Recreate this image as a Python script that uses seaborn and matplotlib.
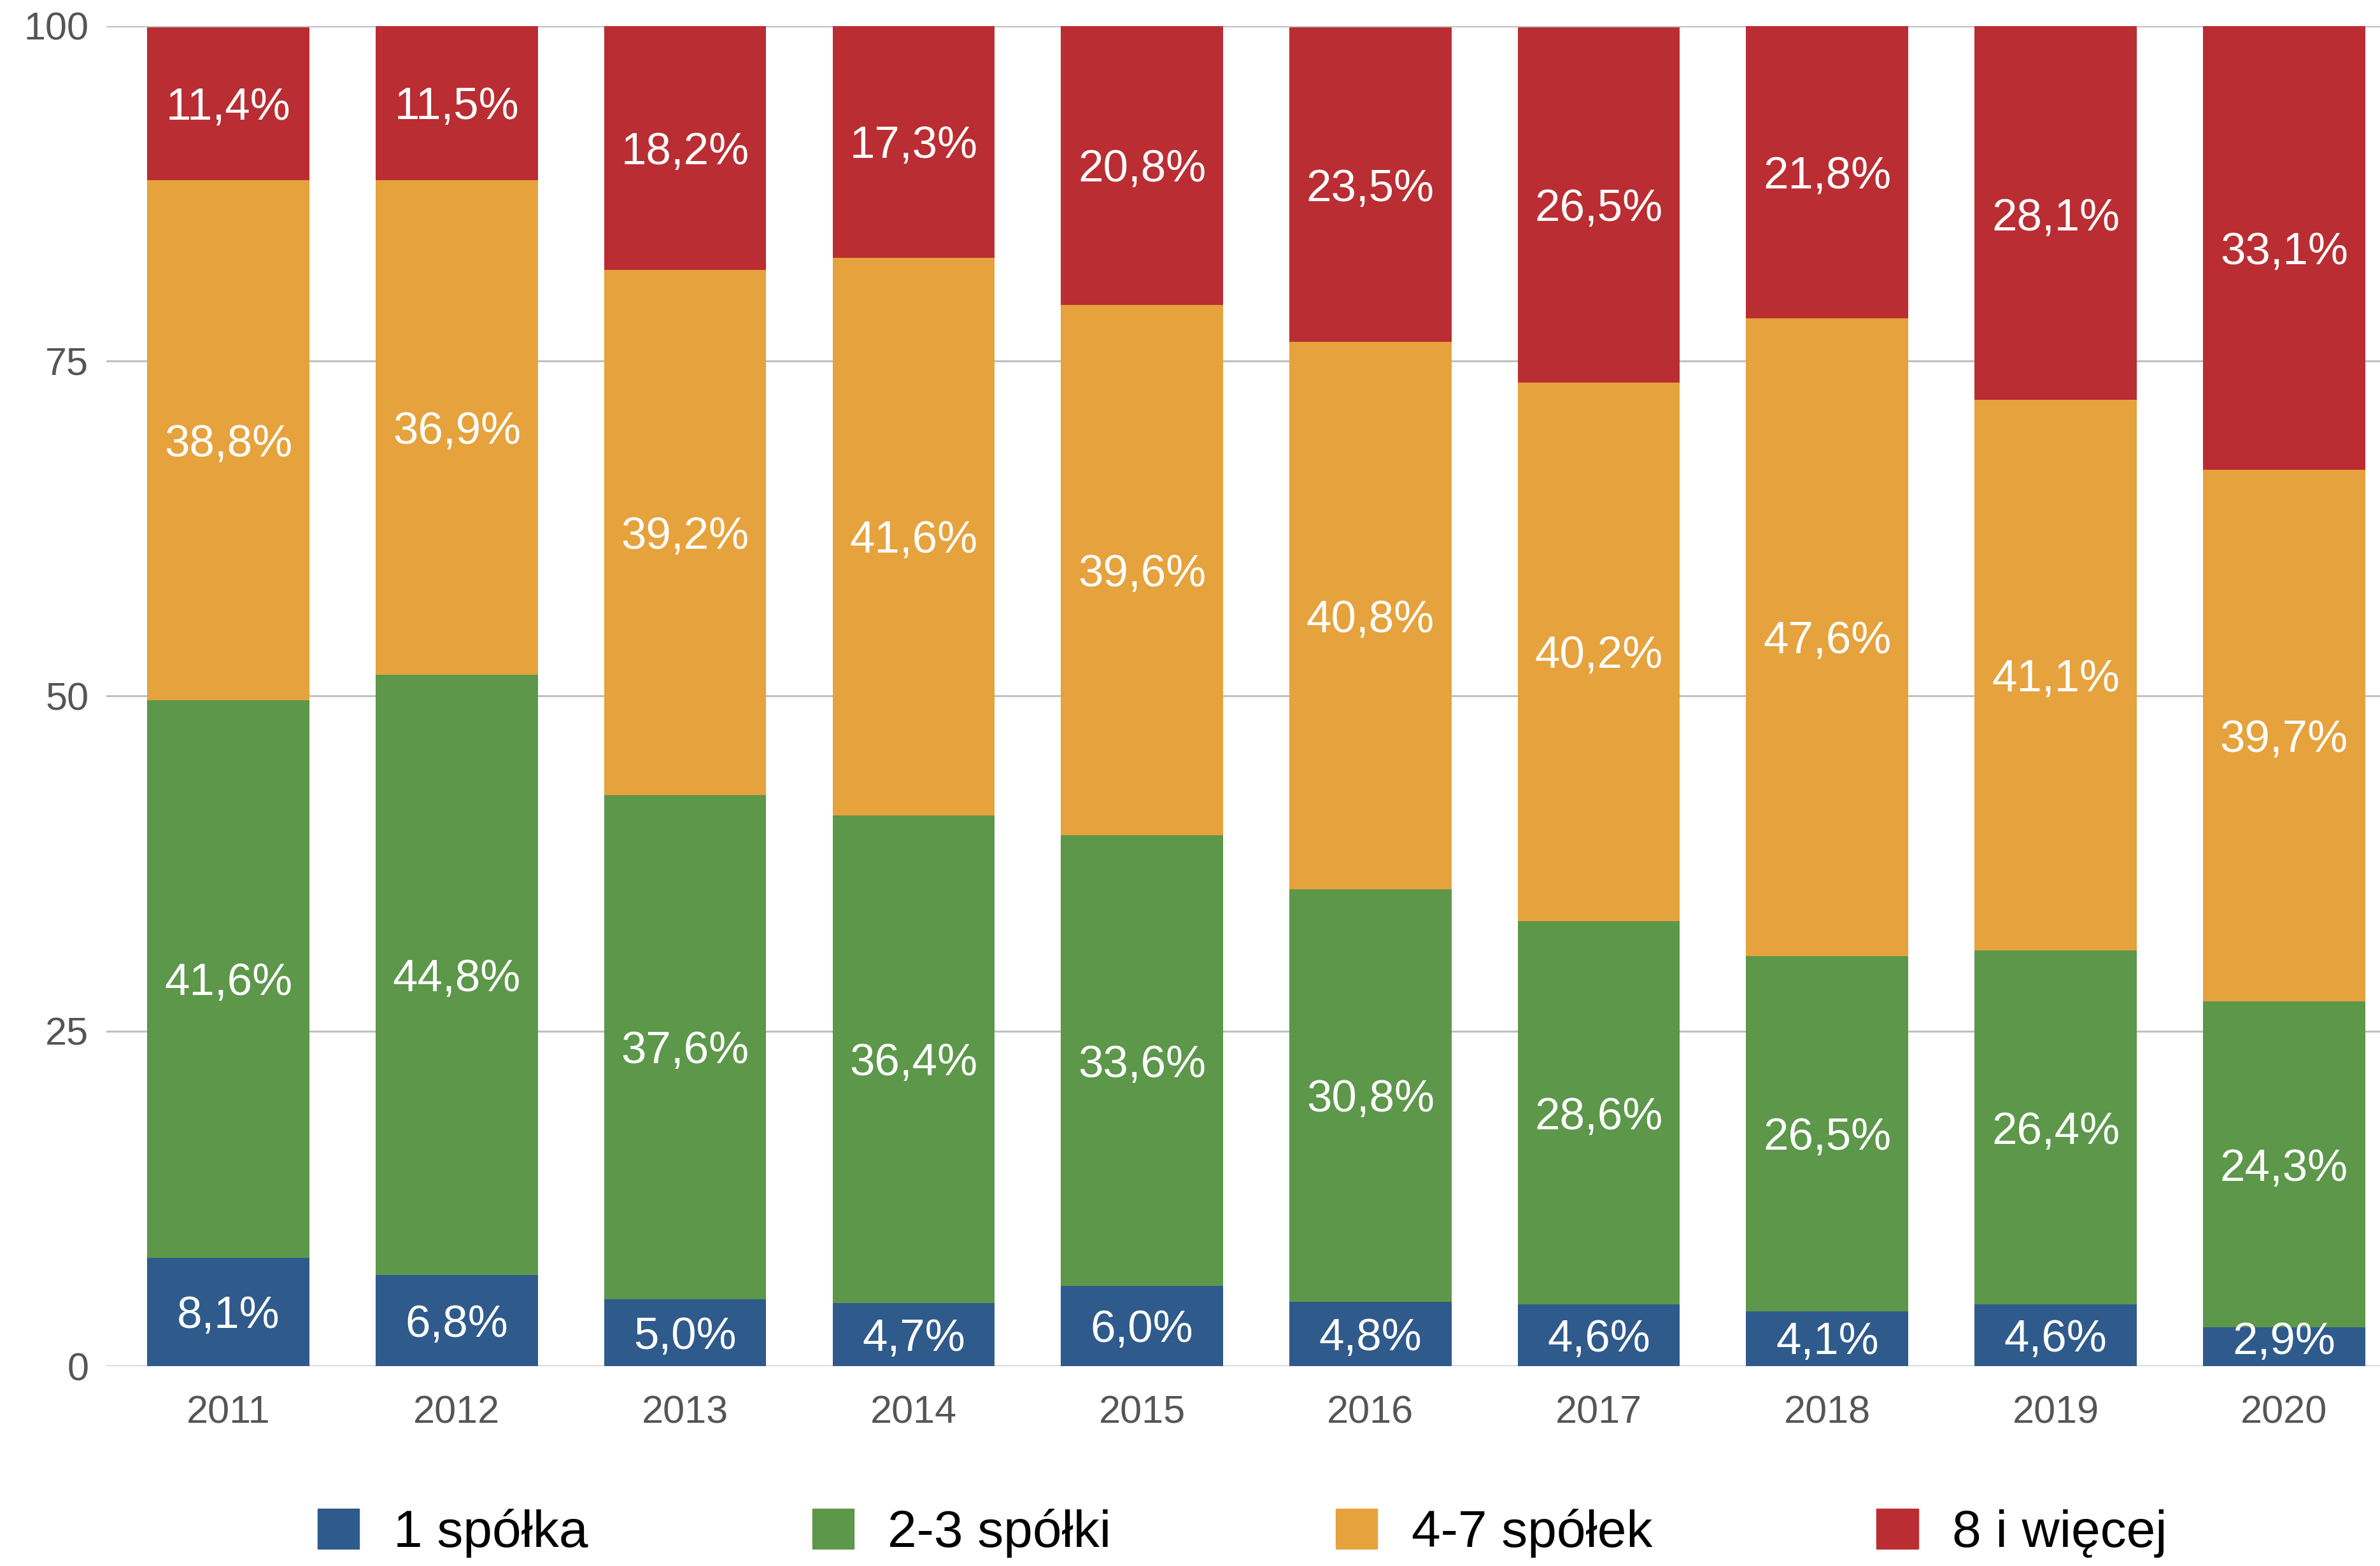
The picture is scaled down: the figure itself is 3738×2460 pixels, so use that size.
import matplotlib
matplotlib.use("Agg")
import matplotlib.pyplot as plt
import matplotlib.patches as mpatches
import numpy as np
import seaborn as sns

years = ["2011", "2012", "2013", "2014", "2015", "2016", "2017", "2018", "2019", "2020"]
one = [8.1, 6.8, 5.0, 4.7, 6.0, 4.8, 4.6, 4.1, 4.6, 2.9]
two_three = [41.6, 44.8, 37.6, 36.4, 33.6, 30.8, 28.6, 26.5, 26.4, 24.3]
four_seven = [38.8, 36.9, 39.2, 41.6, 39.6, 40.8, 40.2, 47.6, 41.1, 39.7]
eight_plus = [11.4, 11.5, 18.2, 17.3, 20.8, 23.5, 26.5, 21.8, 28.1, 33.1]

series_names = ["1 spółka", "2-3 spółki", "4-7 spółek", "8 i więcej"]
colors = ["#2F5A8C", "#5C974A", "#E6A23C", "#BA2D32"]

sns.set_style("white")
plt.rcParams["font.family"] = ["Liberation Sans", "DejaVu Sans"]

fig = plt.figure(figsize=(37.38, 24.6), dpi=100)
ax = fig.add_axes([0.0447, 0.1276, 0.9553, 0.8559])

series = [np.array(one), np.array(two_three), np.array(four_seven), np.array(eight_plus)]
cum = np.cumsum(series, axis=0)
cum[-1] = np.minimum(cum[-1], 100)

# draw cumulative totals from the top series down so they overlap as a stack
for i in range(len(series) - 1, -1, -1):
    sns.barplot(x=years, y=cum[i], color=colors[i], width=0.71,
                saturation=1, linewidth=0, ax=ax, zorder=3)

for i, vals in enumerate(series):
    centers = cum[i] - vals / 2
    for j, v in enumerate(vals):
        ax.text(j, max(centers[j], 2.1), f"{v:.1f}%".replace(".", ","), color="white",
                ha="center", va="center_baseline", fontsize=51, zorder=5)

ax.set_ylim(0, 100)
ax.set_xlim(-0.534, 9.42)
ax.set_yticks([0, 25, 50, 75, 100])
ax.yaxis.grid(True, color="#C0C0C0", linewidth=2.2, zorder=0)
ax.set_axisbelow(True)
for s in ax.spines.values():
    s.set_visible(False)
ax.tick_params(axis="both", length=0, labelsize=44, labelcolor="#555555")
ax.tick_params(axis="y", pad=20)
ax.tick_params(axis="x", pad=33)
ax.set_xlabel("")
ax.set_ylabel("")

handles = [mpatches.Patch(color=c, label=n) for c, n in zip(colors, series_names)]
fig.legend(handles=handles, loc="center", bbox_to_anchor=(0.522, 0.021), ncol=4,
           frameon=False, fontsize=59, handlelength=0.8, handleheight=0.8,
           handletextpad=0.65, columnspacing=4.3, labelcolor="black")

fig.savefig("out.png", dpi=100)
